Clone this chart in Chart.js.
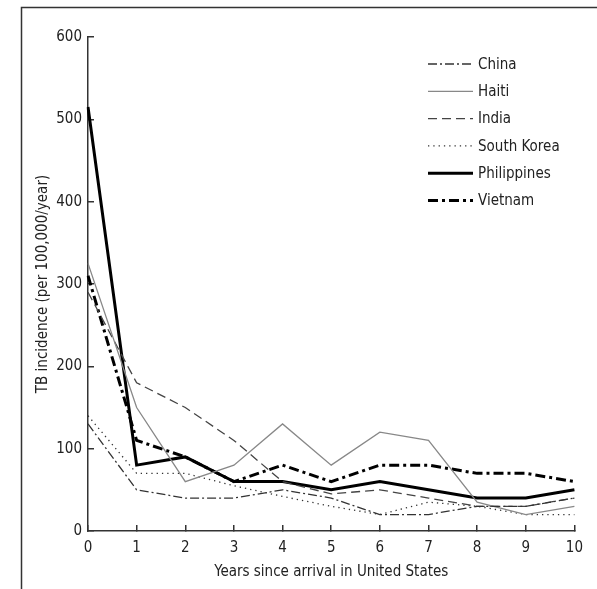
<!DOCTYPE html>
<html>
<head>
<meta charset="utf-8">
<script src="https://cdn.jsdelivr.net/npm/chart.js@4.4.1/dist/chart.umd.min.js"></script>
<style>
  html, body { margin: 0; padding: 0; background: #fff; }
  canvas { display: block; }
</style>
</head>
<body>
<canvas id="canvas" width="597" height="589"></canvas>
<script>
// years since arrival
var years = [0, 1, 2, 3, 4, 5, 6, 7, 8, 9, 10];
var yTicks = [0, 100, 200, 300, 400, 500, 600];

// TB incidence per 100,000 per year
var china       = [130, 50, 40, 40, 50, 40, 20, 20, 30, 30, 40];
var haiti       = [325, 150, 60, 80, 130, 80, 120, 110, 35, 20, 30];
var india       = [290, 180, 150, 110, 60, 45, 50, 40, 30, 30, 40];
var southKorea  = [140, 70, 70, 55, 42, 30, 20, 35, 30, 20, 20];
var philippines = [515, 80, 90, 60, 60, 50, 60, 50, 40, 40, 50];
var vietnam     = [310, 110, 90, 60, 80, 60, 80, 80, 70, 70, 60];

var FONT = '"DejaVu Sans Condensed", "Liberation Sans", Arial, sans-serif';
Chart.defaults.font.family = FONT;
Chart.defaults.font.size = 15;
Chart.defaults.color = '#222';

// figure frame (MATLAB export border)
var framePlugin = {
  id: 'frame',
  beforeDraw: function(chart) {
    var ctx = chart.ctx;
    ctx.save();
    ctx.strokeStyle = '#333';
    ctx.lineWidth = 1.5;
    ctx.beginPath();
    ctx.moveTo(21.5, chart.height);
    ctx.lineTo(21.5, 7.5);
    ctx.lineTo(chart.width, 7.5);
    ctx.stroke();
    ctx.restore();
  }
};

// legend in the upper right, inside the axes
var legendPlugin = {
  id: 'sideLegend',
  afterDatasetsDraw: function(chart) {
    var ctx = chart.ctx, a = chart.chartArea;
    chart.data.datasets.forEach(function(ds, i) {
      var y = a.top + 27 + i * 27.3;
      ctx.save();
      ctx.strokeStyle = ds.borderColor;
      ctx.lineWidth = ds.borderWidth;
      ctx.setLineDash(ds.borderDash || []);
      ctx.beginPath();
      ctx.moveTo(a.left + 340, y);
      ctx.lineTo(a.left + 385, y);
      ctx.stroke();
      ctx.setLineDash([]);
      ctx.fillStyle = '#222';
      ctx.font = '15px ' + FONT;
      ctx.textBaseline = 'middle';
      ctx.fillText(ds.label, a.left + 390, y + 1);
      ctx.restore();
    });
  }
};

function series(label, data, color, width, dash) {
  return {
    label: label,
    data: data,
    borderColor: color,
    borderWidth: width,
    borderDash: dash,
    pointRadius: 0,
    tension: 0,
    fill: false
  };
}

var config = {
  type: 'line',
  data: {
    labels: years,
    datasets: [
      series('China', china, '#333', 1.3, [9, 3, 2, 3]),
      series('Haiti', haiti, '#888', 1.3, []),
      series('India', india, '#444', 1.3, [9, 5]),
      series('South Korea', southKorea, '#333', 1.3, [1.3, 4]),
      series('Philippines', philippines, '#000', 3, []),
      series('Vietnam', vietnam, '#000', 3, [10, 4, 3, 4])
    ]
  },
  options: {
    responsive: false,
    animation: false,
    layout: { padding: { left: 0, top: 37, right: 19, bottom: 0 } },
    plugins: { legend: { display: false }, tooltip: { enabled: false } },
    scales: {
      x: {
        type: 'category',
        offset: false,
        grid: { drawOnChartArea: false, tickLength: -6, color: '#333', lineWidth: 1.5 },
        border: { color: '#333', width: 1.5 },
        ticks: { padding: 14, maxRotation: 0, autoSkip: false },
        title: { display: true, text: 'Years since arrival in United States', padding: { top: 0, bottom: 8 } },
        afterFit: function(s) { s.height = 58; }
      },
      y: {
        min: 0,
        max: 600,
        afterBuildTicks: function(s) { s.ticks = yTicks.map(function(v) { return { value: v }; }); },
        grid: { drawOnChartArea: false, tickLength: -6, color: '#333', lineWidth: 1.5 },
        border: { color: '#333', width: 1.5 },
        ticks: { padding: 12 },
        title: { display: true, text: 'TB incidence (per 100,000/year)', padding: { top: 34, bottom: 0 } },
        afterFit: function(s) { s.width = 88; }
      }
    }
  },
  plugins: [framePlugin, legendPlugin]
};

window.onload = function() {
  window.myLine = new Chart(document.getElementById('canvas'), config);
};
</script>
</body>
</html>
